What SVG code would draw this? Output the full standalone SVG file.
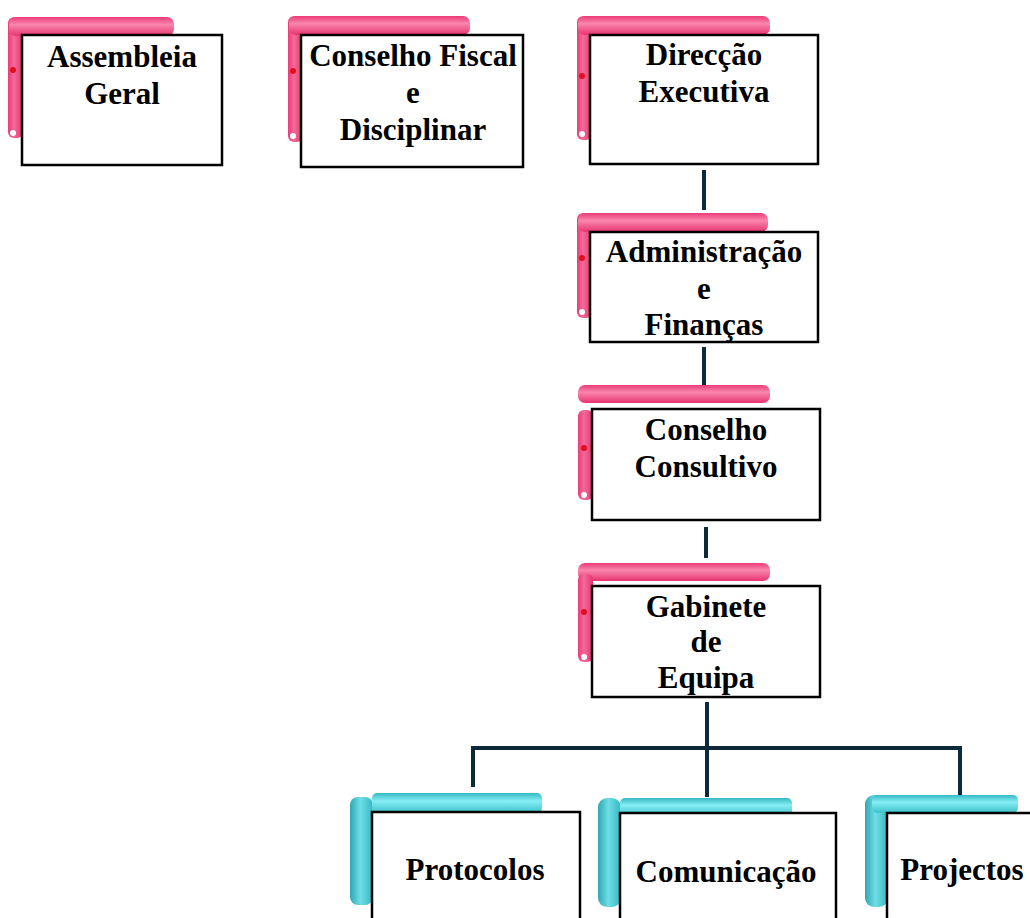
<svg xmlns="http://www.w3.org/2000/svg" width="1030" height="918" viewBox="0 0 1030 918">
<defs>
<linearGradient id="pinkH" x1="0" y1="0" x2="0" y2="1">
<stop offset="0" stop-color="#ec3b78"/><stop offset="0.4" stop-color="#f886ad"/><stop offset="1" stop-color="#e8336f"/>
</linearGradient>
<linearGradient id="pinkV" x1="0" y1="0" x2="1" y2="0">
<stop offset="0" stop-color="#ec3b78"/><stop offset="0.4" stop-color="#f26a9a"/><stop offset="1" stop-color="#e8336f"/>
</linearGradient>
<linearGradient id="cyanH" x1="0" y1="0" x2="0" y2="1">
<stop offset="0" stop-color="#36b8c2"/><stop offset="0.4" stop-color="#86eef5"/><stop offset="1" stop-color="#3cc0c9"/>
</linearGradient>
<linearGradient id="cyanV" x1="0" y1="0" x2="1" y2="0">
<stop offset="0" stop-color="#2ea8b2"/><stop offset="0.45" stop-color="#6fdde6"/><stop offset="1" stop-color="#36b8c2"/>
</linearGradient>
</defs>
<style>
.ph{fill:url(#pinkH)}
.pv{fill:url(#pinkV)}
.ch{fill:url(#cyanH)}
.cv{fill:url(#cyanV)}
.box{fill:#ffffff;stroke:#000000;stroke-width:2.5}
.red{fill:#e0101c}
.wd{fill:#ffffff}
.t{font-family:"Liberation Serif","Times New Roman",serif;font-weight:bold;font-size:31px;fill:#000000;text-anchor:middle}
.con{stroke:#0d2a3a;stroke-width:4;fill:none}
</style>
<g id="connectors">
<line class="con" x1="704" y1="170" x2="704" y2="210"/>
<line class="con" x1="704" y1="347" x2="704" y2="387"/>
<line class="con" x1="706" y1="527" x2="706" y2="558"/>
<line class="con" x1="707" y1="702" x2="707" y2="748"/>
<polyline class="con" points="473,787 473,748 960,748 960,797"/>
<line class="con" x1="707" y1="748" x2="707" y2="797"/>
</g>
<g id="assembleia">
<rect class="pv" x="8" y="17" width="15" height="121" rx="6"/>
<rect class="ph" x="9" y="17" width="165" height="19" rx="7"/>
<circle class="red" cx="13" cy="70" r="3"/>
<circle class="wd" cx="13" cy="133" r="3"/>
<rect class="box" x="22" y="35" width="200" height="130"/>
<text class="t" x="122" y="67">Assembleia</text>
<text class="t" x="122" y="104">Geral</text>
</g>
<g id="conselho-fiscal">
<rect class="pv" x="288" y="16" width="15" height="126" rx="6"/>
<rect class="ph" x="289" y="16" width="181" height="19" rx="7"/>
<circle class="red" cx="293" cy="71" r="3"/>
<circle class="wd" cx="293" cy="136" r="3"/>
<rect class="box" x="301" y="35" width="222" height="132"/>
<text class="t" x="413" y="66">Conselho Fiscal</text>
<text class="t" x="413" y="103">e</text>
<text class="t" x="413" y="140">Disciplinar</text>
</g>
<g id="direccao">
<rect class="pv" x="577" y="16" width="15" height="124" rx="6"/>
<rect class="ph" x="578" y="16" width="192" height="19" rx="7"/>
<circle class="red" cx="582" cy="76" r="3"/>
<circle class="wd" cx="582" cy="134" r="3"/>
<rect class="box" x="590" y="35" width="228" height="129"/>
<text class="t" x="704" y="65">Direcção</text>
<text class="t" x="704" y="102">Executiva</text>
</g>
<g id="administracao">
<rect class="pv" x="577" y="213" width="15" height="105" rx="6"/>
<rect class="ph" x="578" y="213" width="190" height="19" rx="7"/>
<circle class="red" cx="582" cy="258" r="3"/>
<circle class="wd" cx="582" cy="312" r="3"/>
<rect class="box" x="590" y="232" width="228" height="110"/>
<text class="t" x="704" y="262">Administração</text>
<text class="t" x="704" y="299">e</text>
<text class="t" x="704" y="335">Finanças</text>
</g>
<g id="conselho-consultivo">
<rect class="ph" x="578" y="385" width="192" height="18" rx="7"/>
<rect class="pv" x="578" y="410" width="15" height="90" rx="6"/>
<circle class="red" cx="584" cy="448" r="3"/>
<circle class="wd" cx="584" cy="495" r="3"/>
<rect class="box" x="592" y="409" width="228" height="111"/>
<text class="t" x="706" y="440">Conselho</text>
<text class="t" x="706" y="477">Consultivo</text>
</g>
<g id="gabinete">
<rect class="ph" x="578" y="563" width="192" height="18" rx="7"/>
<rect class="pv" x="578" y="574" width="15" height="88" rx="6"/>
<circle class="red" cx="584" cy="612" r="3"/>
<circle class="wd" cx="584" cy="657" r="3"/>
<rect class="box" x="592" y="586" width="228" height="111"/>
<text class="t" x="706" y="617">Gabinete</text>
<text class="t" x="706" y="652">de</text>
<text class="t" x="706" y="688">Equipa</text>
</g>
<g id="protocolos">
<rect class="cv" x="350" y="797" width="23" height="108" rx="8"/>
<rect class="ch" x="372" y="793" width="170" height="20" rx="5"/>
<rect class="box" x="372" y="812" width="208" height="120"/>
<text class="t" x="475" y="880">Protocolos</text>
</g>
<g id="comunicacao">
<rect class="cv" x="598" y="798" width="23" height="109" rx="9"/>
<rect class="ch" x="620" y="798" width="172" height="18" rx="5"/>
<rect class="box" x="620" y="813" width="216" height="120"/>
<text class="t" x="726" y="882">Comunicação</text>
</g>
<g id="projectos">
<rect class="cv" x="865" y="795" width="23" height="112" rx="9"/>
<rect class="ch" x="872" y="795" width="146" height="18" rx="5"/>
<rect class="box" x="887" y="813" width="160" height="120"/>
<text class="t" x="962" y="880">Projectos</text>
</g>
</svg>
